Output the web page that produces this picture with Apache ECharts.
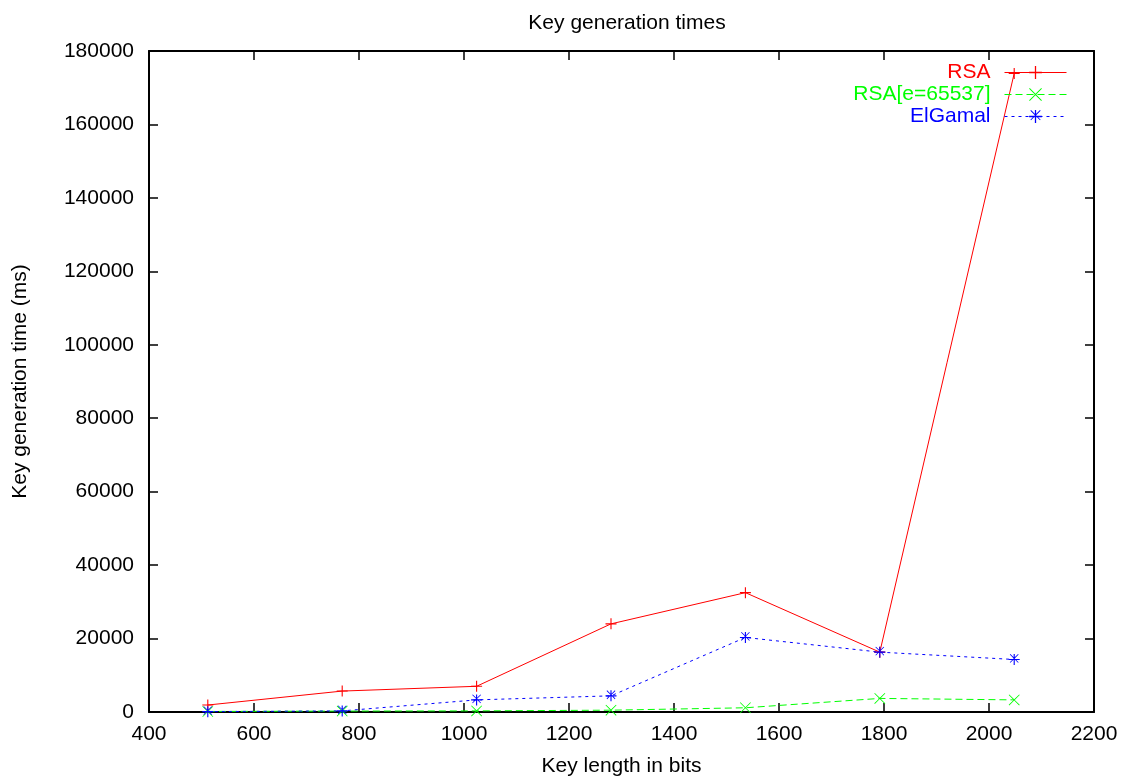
<!DOCTYPE html>
<html>
<head>
<meta charset="utf-8">
<title>Key generation times</title>
<script src="https://cdn.jsdelivr.net/npm/echarts@6/dist/echarts.min.js"></script>
<style>
  html, body { margin: 0; padding: 0; background: #ffffff; }
  #chart { width: 1130px; height: 782px; }
</style>
</head>
<body>
<div id="chart"></div>
<script>
// key sizes (bits) and measured times (ms)
const keyBits = [512, 768, 1024, 1280, 1536, 1792, 2048];
const rsaTimes = [1900, 5700, 7000, 24000, 32500, 16300, 173900];
const rsaE65537Times = [150, 250, 300, 500, 1150, 3700, 3300];
const elgamalTimes = [100, 300, 3300, 4400, 20300, 16300, 14300];
const seriesNames = ['RSA', 'RSA[e=65537]', 'ElGamal'];
const seriesColors = ['#ff0000', '#00ff00', '#0000ff'];
const seriesDash = ['solid', [7, 4], [3, 4]];

const FONT = 'Liberation Sans, Arial, sans-serif';
const FS = 21;

// gnuplot-like point shapes made of thin filled bars
const plusPath = 'path://M9,0H11V9H20V11H11V20H9V11H0V9H9Z';
const crossPath = 'path://M0,1L1,0L10,9L19,0L20,1L11,10L20,19L19,20L10,11L1,20L0,19L9,10Z';
const starPath = 'path://M9,0H11V9H20V11H11V20H9V11H0V9H9Z' +
  'M2,1L3,0L10,7L17,0L18,1L11,8L18,15L17,16L10,9L3,16L2,15L9,8Z';
const symbols = [plusPath, crossPath, starPath];

function pairs(ys) {
  return keyBits.map((x, i) => [x, ys[i]]);
}

const chart = echarts.init(document.getElementById('chart'));

function frameAxis(extra) {
  return Object.assign({
    axisLine: { show: true, onZero: false, lineStyle: { color: '#000', width: 2 } },
    axisTick: { show: true, inside: true, length: 9, lineStyle: { color: '#000', width: 1.5 } },
    splitLine: { show: false }
  }, extra);
}

function makeSeries(i, values) {
  return {
    name: seriesNames[i], type: 'line', data: pairs(values),
    symbol: symbols[i], symbolSize: 11, showAllSymbol: true,
    lineStyle: { color: seriesColors[i], width: 1, type: seriesDash[i] },
    itemStyle: { color: seriesColors[i] }
  };
}

const option = {
  animation: false,
  backgroundColor: '#ffffff',
  title: {
    text: 'Key generation times',
    left: 622,
    top: 8,
    textAlign: 'center',
    textStyle: { fontFamily: FONT, fontSize: FS, fontWeight: 'normal', color: '#000' }
  },
  legend: {
    orient: 'vertical',
    right: 63,
    top: 62,
    padding: 0,
    align: 'right',
    itemWidth: 62,
    itemHeight: 16,
    itemGap: 1,
    selectedMode: false,
    data: seriesNames.map((n, i) => ({
      name: n,
      textStyle: { color: seriesColors[i] },
      itemStyle: { color: seriesColors[i] },
      lineStyle: { color: seriesColors[i], width: 1, type: seriesDash[i] }
    })),
    textStyle: { fontFamily: FONT, fontSize: FS, lineHeight: 16, padding: [0, 9, 0, 0] }
  },
  grid: { left: 149, right: 36, top: 51, bottom: 70 },
  xAxis: [
    frameAxis({
      type: 'value', min: 400, max: 2200, interval: 200,
      name: 'Key length in bits', nameLocation: 'middle', nameGap: 44,
      nameTextStyle: { fontFamily: FONT, fontSize: FS, color: '#000' },
      axisLabel: { fontFamily: FONT, fontSize: FS, color: '#000', margin: 12, formatter: v => String(v) }
    }),
    frameAxis({
      type: 'value', min: 400, max: 2200, interval: 200, position: 'top',
      axisLabel: { show: false }
    })
  ],
  yAxis: [
    frameAxis({
      type: 'value', min: 0, max: 180000, interval: 20000,
      name: 'Key generation time (ms)', nameLocation: 'middle', nameGap: 118,
      nameTextStyle: { fontFamily: FONT, fontSize: FS, color: '#000' },
      axisLabel: { fontFamily: FONT, fontSize: FS, color: '#000', margin: 15, formatter: v => String(v) }
    }),
    frameAxis({
      type: 'value', min: 0, max: 180000, interval: 20000, position: 'right',
      axisLabel: { show: false }
    })
  ],
  series: [
    makeSeries(0, rsaTimes),
    makeSeries(1, rsaE65537Times),
    makeSeries(2, elgamalTimes)
  ]
};

chart.setOption(option);
</script>
</body>
</html>
